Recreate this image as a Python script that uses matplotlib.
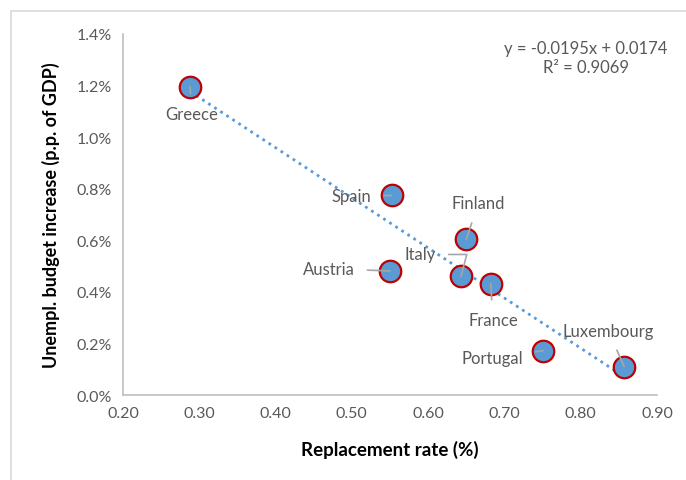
import matplotlib.pyplot as plt
import numpy as np
from matplotlib.patches import Rectangle
from matplotlib.ticker import FuncFormatter

plt.rcParams['font.family'] = ['Lato', 'DejaVu Sans']

countries = ["Greece", "Spain", "Finland", "Austria", "Italy", "France", "Portugal", "Luxembourg"]
repl_rate = [0.288, 0.552, 0.650, 0.550, 0.643, 0.682, 0.751, 0.857]
budget_inc = [0.01194, 0.00774, 0.00604, 0.00481, 0.00460, 0.00432, 0.00172, 0.00110]

# label positions (data units)
lab_pos = {
    "Greece": (0.290, 0.0109),
    "Spain": (0.500, 0.00770),
    "Finland": (0.666, 0.00745),
    "Austria": (0.470, 0.00490),
    "Italy": (0.590, 0.00545),
    "France": (0.685, 0.00290),
    "Portugal": (0.684, 0.00145),
    "Luxembourg": (0.836, 0.00250),
}

gray = "#595959"
fig = plt.figure(figsize=(6.86, 4.81), dpi=100)
fig.patches.append(Rectangle((11/686, -0.1), 1.2, 1 - 12/481 + 0.1, transform=fig.transFigure,
                             fill=False, edgecolor="#d9d9d9", linewidth=1.2))
ax = fig.add_axes([123/686, 1 - 396/481, (657 - 123)/686, (396 - 35)/481])

x = np.array(repl_rate)
y = np.array(budget_inc)
slope, icpt = np.polyfit(x, y, 1)
xs = np.array([x.min(), x.max()])
ax.plot(xs, slope*xs + icpt, linestyle=(0, (1, 1.6)), color="#5b9bd5", linewidth=2, zorder=2)

ax.scatter(x, y, s=240, color="#5b9bd5", edgecolor="#c00000", linewidth=1.6, zorder=4)

for name, xv, yv in zip(countries, repl_rate, budget_inc):
    tx, ty = lab_pos[name]
    conn = "angle,angleA=0,angleB=75,rad=0" if name == "Italy" else "arc3"
    ax.annotate(name, xy=(xv, yv), xytext=(tx, ty), textcoords="data",
                ha="center", va="center", fontsize=12, color=gray,
                arrowprops=dict(arrowstyle="-", color="#a6a6a6", lw=1.2,
                                shrinkA=7, shrinkB=0, connectionstyle=conn), zorder=5)

ax.text(0.807, 0.0131, "y = -0.0195x + 0.0174\nR² = 0.9069", ha="center", va="center",
        fontsize=12, color=gray, linespacing=1.25)

ax.set_xlim(0.2, 0.9)
ax.set_ylim(0, 0.014)
ax.set_xticks(np.arange(0.2, 0.91, 0.1))
ax.set_yticks(np.arange(0, 0.0141, 0.002))
ax.xaxis.set_major_formatter(FuncFormatter(lambda v, p: f"{v:.2f}"))
ax.yaxis.set_major_formatter(FuncFormatter(lambda v, p: f"{v*100:.1f}%"))
ax.tick_params(length=0, labelsize=11.5, labelcolor=gray, pad=8)
for s in ["top", "right"]:
    ax.spines[s].set_visible(False)
for s in ["left", "bottom"]:
    ax.spines[s].set_color("#bfbfbf")
    ax.spines[s].set_linewidth(1.2)

ax.set_xlabel("Replacement rate (%)", fontsize=13.5, fontweight="bold", labelpad=14)
ax.set_ylabel("Unempl. budget increase (p.p. of GDP)", fontsize=13, fontweight="bold", labelpad=12)

fig.savefig("out.png", dpi=100)
